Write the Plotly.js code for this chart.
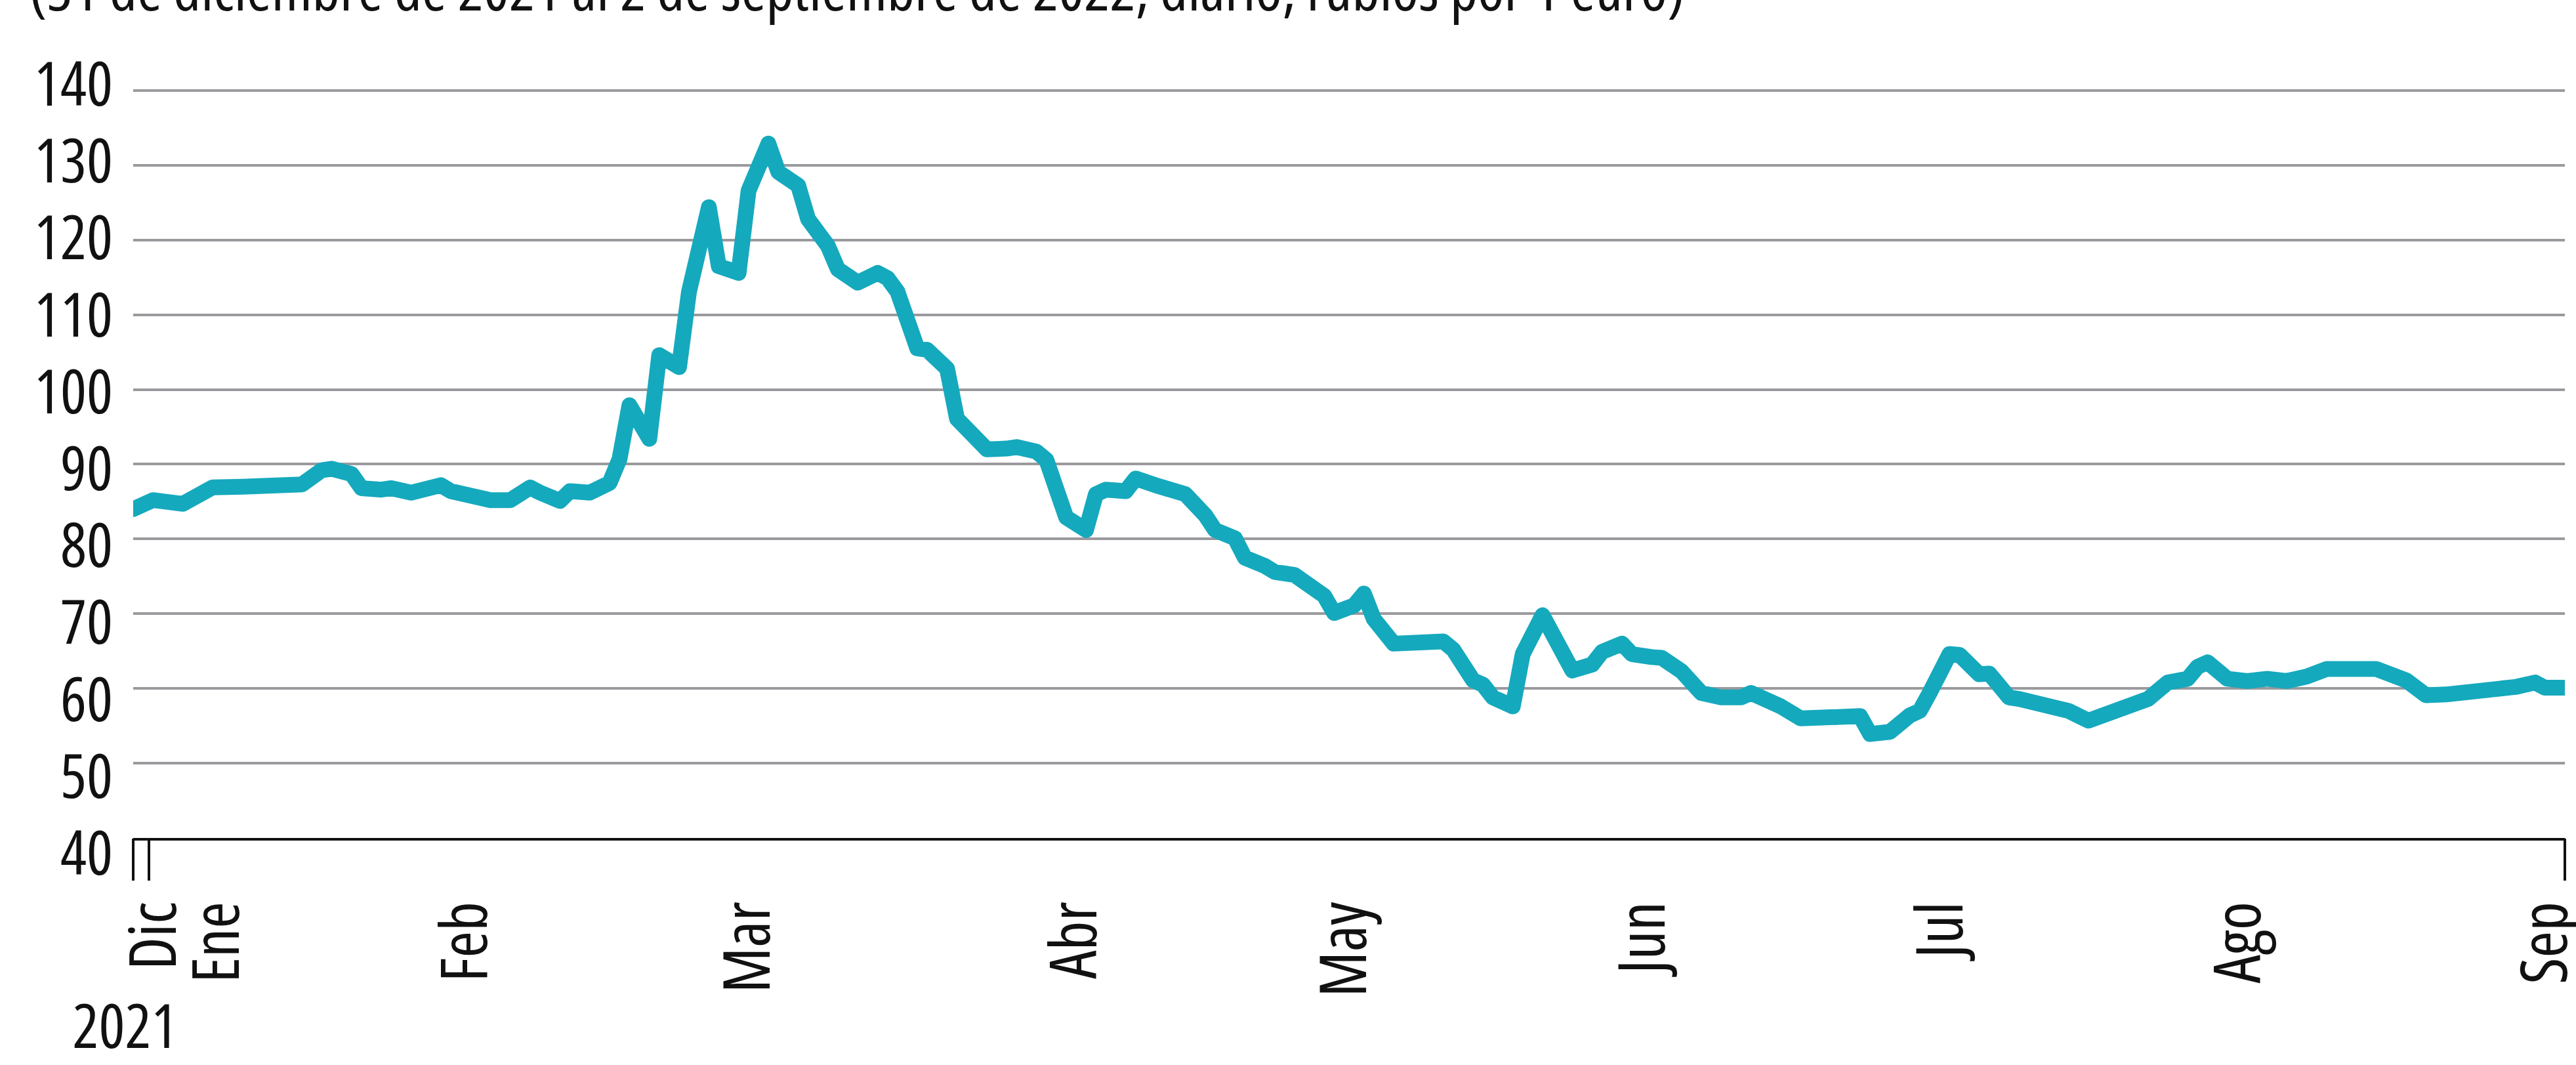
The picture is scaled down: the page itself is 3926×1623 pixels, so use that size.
<!DOCTYPE html>
<html>
<head>
<meta charset="utf-8">
<script src="https://cdn.plot.ly/plotly-3.0.1.min.js"></script>
<style>
  html, body { margin: 0; padding: 0; background: #ffffff; }
  #chart { width: 3926px; height: 1623px; }
  .js-line { stroke-linejoin: round; stroke-linecap: round; }
  .main-svg text { font-stretch: 75%; }
</style>
</head>
<body>
<div id="chart"></div>
<script>
// Daily rate, roubles per 1 euro
const dates = [
  '2021-12-31','2022-01-02','2022-01-05','2022-01-08','2022-01-11','2022-01-13','2022-01-15','2022-01-17',
  '2022-01-19','2022-01-20','2022-01-22','2022-01-23','2022-01-25','2022-01-26','2022-01-28','2022-01-29',
  '2022-01-31','2022-02-01','2022-02-04','2022-02-05','2022-02-07','2022-02-09','2022-02-10','2022-02-12',
  '2022-02-13','2022-02-15','2022-02-17','2022-02-18','2022-02-19','2022-02-21','2022-02-22','2022-02-24',
  '2022-02-25','2022-02-27','2022-02-28','2022-03-02','2022-03-03','2022-03-05','2022-03-06','2022-03-08',
  '2022-03-09','2022-03-11','2022-03-12','2022-03-14','2022-03-16','2022-03-17','2022-03-18','2022-03-20',
  '2022-03-21','2022-03-23','2022-03-24','2022-03-26','2022-03-27','2022-03-29','2022-03-30','2022-04-01',
  '2022-04-02','2022-04-04','2022-04-06','2022-04-07','2022-04-08','2022-04-10','2022-04-11','2022-04-13',
  '2022-04-15','2022-04-16','2022-04-18','2022-04-19','2022-04-21','2022-04-22','2022-04-24','2022-04-25',
  '2022-04-27','2022-04-28','2022-04-30','2022-05-01','2022-05-03','2022-05-04','2022-05-05','2022-05-07',
  '2022-05-09','2022-05-10','2022-05-12','2022-05-13','2022-05-15','2022-05-16','2022-05-17','2022-05-19',
  '2022-05-20','2022-05-22','2022-05-24','2022-05-25','2022-05-27','2022-05-28','2022-05-30','2022-05-31',
  '2022-06-02','2022-06-03','2022-06-05','2022-06-06','2022-06-07','2022-06-09','2022-06-11','2022-06-12',
  '2022-06-13','2022-06-15','2022-06-17','2022-06-18','2022-06-20','2022-06-21','2022-06-23','2022-06-24',
  '2022-06-26','2022-06-28','2022-06-29','2022-06-30','2022-07-02','2022-07-03','2022-07-05','2022-07-06',
  '2022-07-08','2022-07-09','2022-07-12','2022-07-14','2022-07-16','2022-07-18','2022-07-20','2022-07-22',
  '2022-07-24','2022-07-26','2022-07-27','2022-07-28','2022-07-30','2022-08-01','2022-08-03','2022-08-05',
  '2022-08-07','2022-08-09','2022-08-12','2022-08-14','2022-08-17','2022-08-19','2022-08-21','2022-08-24',
  '2022-08-26','2022-08-28','2022-08-30','2022-08-31','2022-09-02'
];
const rublosPorEuro = [
  84.0, 85.2, 84.7, 86.9, 87.0, 87.2, 87.0, 87.3,
  89.2, 89.4, 88.7, 86.8, 86.6, 86.8, 86.2, 86.5,
  87.2, 86.4, 85.4, 85.2, 85.2, 86.9, 86.2, 85.1,
  86.4, 86.2, 87.5, 90.7, 97.9, 93.4, 104.6, 103.0,
  113.1, 124.4, 116.5, 115.6, 126.6, 132.9, 129.1, 127.3,
  122.8, 119.2, 116.1, 114.3, 115.6, 114.9, 113.1, 105.5,
  105.3, 102.8, 96.1, 93.6, 92.0, 92.1, 92.3, 91.7,
  90.6, 82.9, 81.2, 86.0, 86.6, 86.4, 88.1, 87.2,
  86.4, 86.0, 83.2, 81.2, 80.1, 77.5, 76.4, 75.6,
  75.2, 74.2, 72.4, 70.1, 71.1, 72.7, 69.3, 66.0,
  66.0, 66.5, 66.3, 65.2, 61.1, 60.5, 58.8, 57.6,
  64.6, 69.8, 64.5, 62.4, 63.2, 64.9, 66.0, 64.6,
  64.2, 64.1, 62.3, 61.1, 59.4, 58.8, 58.8, 59.4,
  58.9, 57.6, 56.0, 56.0, 56.1, 56.4, 56.3, 53.9,
  54.2, 56.4, 57.0, 59.4, 64.6, 64.5, 61.9, 62.0,
  58.8, 58.6, 57.9, 57.0, 55.7, 56.6, 57.6, 58.6,
  60.8, 61.3, 62.9, 63.5, 61.3, 61.0, 61.3, 61.0,
  61.6, 62.6, 62.6, 62.6, 61.1, 59.1, 59.2, 59.5,
  59.9, 60.2, 60.8, 60.1, 60.1
];

// Axis text
const monthLabels = ['Dic', 'Ene', 'Feb', 'Mar', 'Abr', 'May', 'Jun', 'Jul', 'Ago', 'Sep'];
const monthLabelPos = [
  '2022-01-02 04:20', '2022-01-08 12:40', '2022-02-02 12:30', '2022-03-03 00:00',
  '2022-04-04 22:00', '2022-05-02 02:00', '2022-06-01 04:00', '2022-07-01 05:00',
  '2022-07-31 05:00', '2022-08-31 03:00'
];
const tickMarkPos = ['2021-12-31', '2022-01-01 14:24', '2022-09-02'];
const yTicks = [40, 50, 60, 70, 80, 90, 100, 110, 120, 130, 140];
const yearLabel = '2021';
const subtitle = '(31 de diciembre de 2021 al 2 de septiembre de 2022; diario, rublos por 1 euro)';
const xRange = ['2021-12-31', '2022-09-02'];

const FONT = "'Open Sans', 'DejaVu Sans Condensed', sans-serif";
const W = 3926, H = 1623;
const mT = 100, mB = 293;
const plotH = H - mT - mB;
// gridded axis: 40 at pixel row 1277, 140 at row 138 (11.39 px per unit); top padded by half a unit
const yTop = 140.5;
const yDom = [(H - mB - 1277) / plotH, (H - mB - (138 - (yTop - 140) * 11.39)) / plotH];
// label axis: labels sit slightly off the grid lines, as in the original
const labelRange = [90 - (616 / 11.72), 90 + (614 / 11.72)];

const trace = {
  x: dates,
  y: rublosPorEuro,
  type: 'scatter',
  mode: 'lines',
  line: { color: '#15a9bd', width: 24 },
  hoverinfo: 'x+y',
  showlegend: false
};
// empty helpers so that the label axis and the tick-mark axis get drawn
const helperY2 = { x: [null], y: [null], xaxis: 'x', yaxis: 'y2', type: 'scatter', mode: 'lines', showlegend: false, hoverinfo: 'skip' };
const helperX2 = { x: [null], y: [null], xaxis: 'x2', yaxis: 'y', type: 'scatter', mode: 'lines', showlegend: false, hoverinfo: 'skip' };

const layout = {
  width: W,
  height: H,
  paper_bgcolor: '#ffffff',
  plot_bgcolor: 'rgba(0,0,0,0)',
  margin: { l: 203, r: 17, t: mT, b: mB, pad: 0 },
  font: { family: FONT, color: '#111111', size: 94 },
  showlegend: false,
  title: {
    text: subtitle,
    font: { family: FONT, size: 92, color: '#111111' },
    x: 45 / W, xanchor: 'left', xref: 'container',
    y: 1 - 16 / H, yanchor: 'bottom', yref: 'container'
  },
  xaxis: {
    type: 'date',
    range: xRange,
    anchor: 'y',
    tickmode: 'array',
    tickvals: monthLabelPos,
    ticktext: monthLabels,
    tickangle: -90,
    ticks: '',
    ticklabelstandoff: 54,
    ticklabeloverflow: 'allow',
    tickfont: { family: FONT, size: 98, color: '#111111' },
    showgrid: false,
    zeroline: false,
    showline: true,
    linecolor: '#111111',
    linewidth: 4
  },
  xaxis2: {
    type: 'date',
    range: xRange,
    overlaying: 'x',
    anchor: 'y',
    side: 'bottom',
    tickmode: 'array',
    tickvals: tickMarkPos,
    ticktext: ['', '', ''],
    ticks: 'outside',
    ticklen: 64,
    tickwidth: 4,
    tickcolor: '#111111',
    showgrid: false,
    zeroline: false,
    showline: false
  },
  yaxis: {
    domain: yDom,
    range: [40, yTop],
    tickmode: 'array',
    tickvals: yTicks,
    showticklabels: false,
    ticks: '',
    showgrid: true,
    gridcolor: '#9a9a9e',
    gridwidth: 4,
    zeroline: false,
    showline: false
  },
  yaxis2: {
    domain: [0, 1],
    range: labelRange,
    anchor: 'x',
    side: 'left',
    tickmode: 'array',
    tickvals: yTicks,
    ticktext: yTicks.map(String),
    ticks: '',
    ticklabelstandoff: 30,
    ticklabeloverflow: 'allow',
    tickfont: { family: FONT, size: 94, color: '#111111' },
    showgrid: false,
    zeroline: false,
    showline: false
  },
  annotations: [{
    text: yearLabel,
    xref: 'x', x: xRange[0], xshift: -13, xanchor: 'center',
    yref: 'paper', y: (H - mB - 1561) / plotH, yanchor: 'middle',
    showarrow: false,
    font: { family: FONT, size: 94, color: '#111111' }
  }]
};

Plotly.newPlot('chart', [trace, helperY2, helperX2], layout, { staticPlot: true, displayModeBar: false });
</script>
</body>
</html>
